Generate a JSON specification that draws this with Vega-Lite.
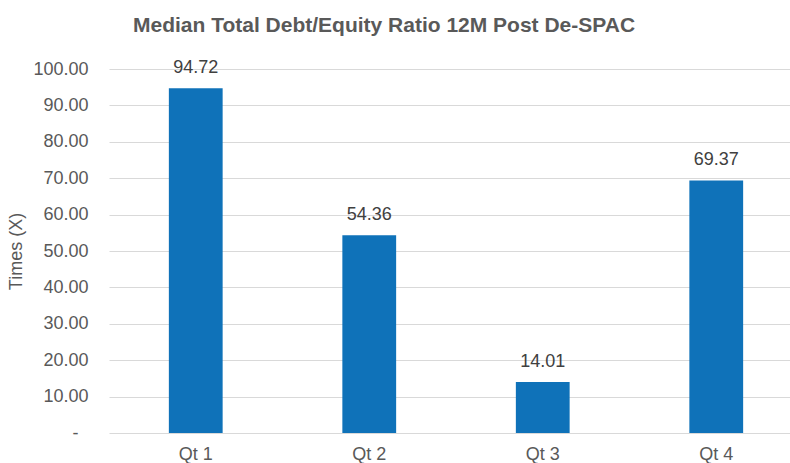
{
  "$schema": "https://vega.github.io/schema/vega-lite/v6.json",
  "autosize": {"type": "none"},
  "padding": {"left": 109, "top": 69, "right": 0, "bottom": 30},
  "width": 694,
  "height": 364,
  "background": "white",
  "title": {
    "text": "Median Total Debt/Equity Ratio 12M Post De-SPAC",
    "font": "Liberation Sans",
    "fontSize": 21,
    "fontWeight": "bold",
    "color": "#595959",
    "anchor": "middle",
    "frame": "group",
    "dx": -72,
    "offset": 23
  },
  "data": {
    "values": [
      {"quarter": "Qt 1", "value": 94.72},
      {"quarter": "Qt 2", "value": 54.36},
      {"quarter": "Qt 3", "value": 14.01},
      {"quarter": "Qt 4", "value": 69.37}
    ]
  },
  "config": {
    "view": {"stroke": null},
    "font": "Liberation Sans"
  },
  "encoding": {
    "x": {
      "field": "quarter",
      "type": "nominal",
      "sort": null,
      "scale": {"paddingInner": 0.69, "paddingOuter": 0.345},
      "axis": {
        "title": null,
        "labelAngle": 0,
        "labelFont": "Liberation Sans",
        "labelFontSize": 18,
        "labelColor": "#595959",
        "labelPadding": 12,
        "ticks": false,
        "domain": false
      }
    },
    "y": {
      "field": "value",
      "type": "quantitative",
      "scale": {"domain": [0, 100], "nice": false},
      "axis": {
        "title": "Times (X)",
        "titleFont": "Liberation Sans",
        "titleFontSize": 18,
        "titleFontWeight": "normal",
        "titleColor": "#595959",
        "titlePadding": 7,
        "values": [0, 10, 20, 30, 40, 50, 60, 70, 80, 90, 100],
        "labelExpr": "datum.value == 0 ? '-\u00a0\u00a0\u200b' : format(datum.value, '.2f')",
        "labelFont": "Liberation Sans",
        "labelFontSize": 18,
        "labelColor": "#595959",
        "labelPadding": 21,
        "ticks": false,
        "domain": false,
        "grid": true,
        "gridColor": "#d9d9d9",
        "gridWidth": 1
      }
    }
  },
  "layer": [
    {
      "mark": {"type": "bar", "color": "#0f72b9"}
    },
    {
      "mark": {
        "type": "text",
        "dy": -15,
        "baseline": "alphabetic",
        "font": "Liberation Sans",
        "fontSize": 18,
        "color": "#404040"
      },
      "encoding": {
        "text": {"field": "value", "type": "quantitative", "format": ".2f"}
      }
    }
  ]
}
